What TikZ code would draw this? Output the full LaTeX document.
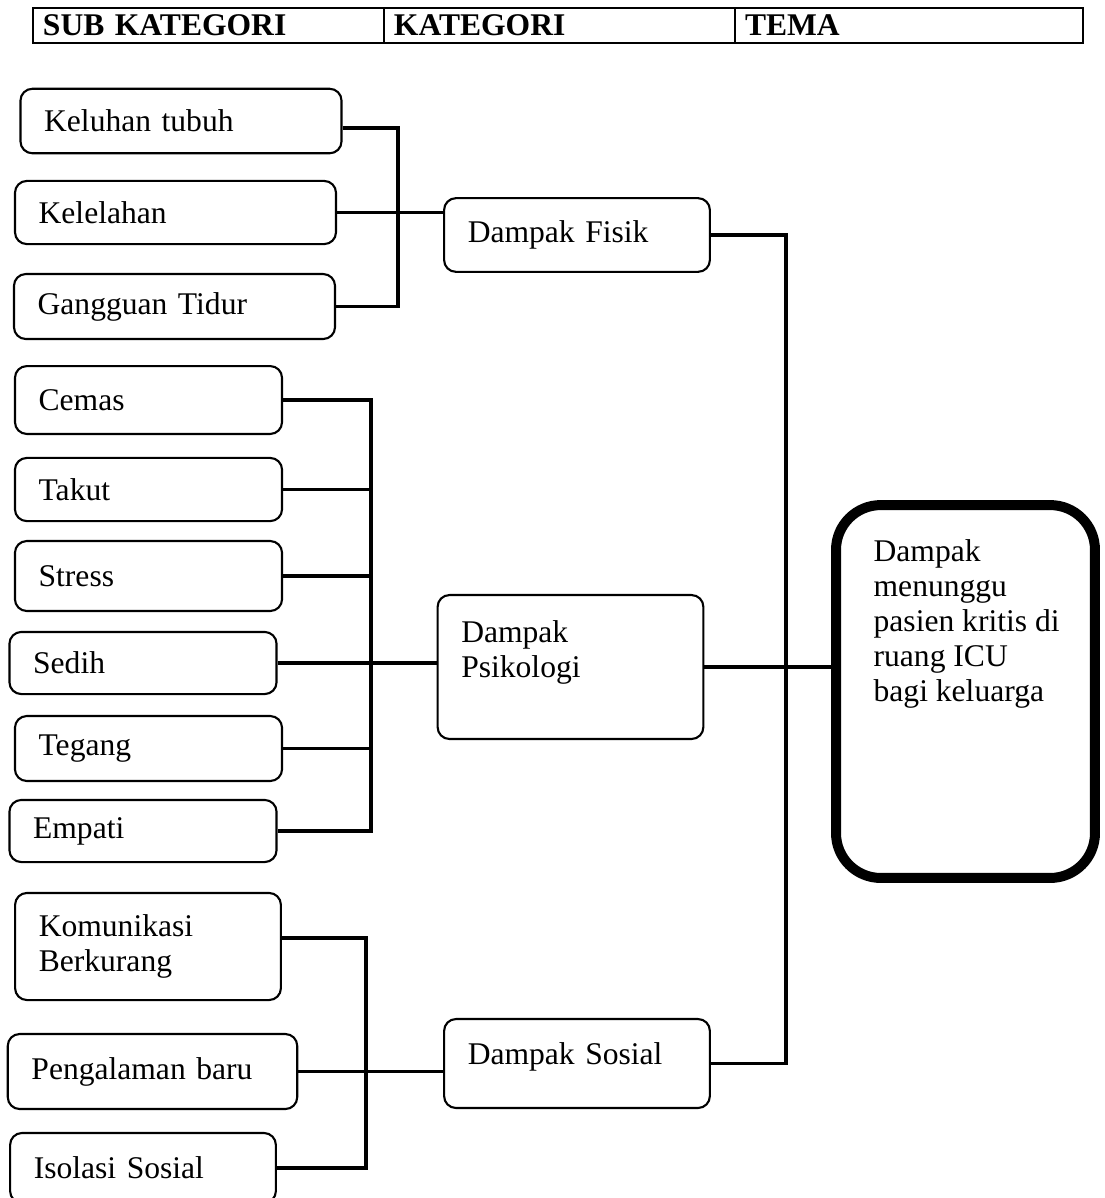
\documentclass[tikz,border=0pt]{standalone}
\usepackage{fontspec}
\setmainfont{Liberation Serif}
\usepackage{tikz}
\usetikzlibrary{positioning}
\tikzset{subbox/.style={rectangle, rounded corners=4.5pt, draw=black, line width=0.8pt, inner xsep=9pt, inner ysep=2pt, align=left},katbox/.style={subbox, text width=83pt},temabox/.style={rectangle, rounded corners=17pt, draw=black, line width=3.8pt, minimum width=98.4pt, minimum height=141.7pt},head/.style={rectangle, draw=black, line width=1pt, inner xsep=3.8pt, inner ysep=1pt, minimum height=13.3pt, align=left, font=\fontsize{12}{13.3}\selectfont\bfseries},conn/.style={line width=1.5pt}}

\begin{document}
\begin{tikzpicture}[x=0.38pt,y=-0.38pt,font=\fontsize{12}{13.3}\selectfont]

\useasboundingbox (0,0) rectangle (1105,1198);

% header
\node (hsub) at (208.5,25.5)[head,text width=125.8pt]{SUB KATEGORI};
\node (hkat) at (559.5,25.5)[head,text width=125.8pt]{KATEGORI};
\node (htema) at (909,25.5)[head,text width=124.6pt]{TEMA};

% sub kategori
\node (keluhan) at (181,121)[subbox,text width=104pt,minimum height=24.5pt]{Keluhan tubuh};
\node (kelelahan) at (175.5,212.5)[subbox,text width=104pt,minimum height=24pt]{Kelelahan};
\node (gangguan) at (174.5,306.5)[subbox,text width=104pt,minimum height=24.7pt]{Gangguan Tidur};

\node (cemas) at (148.5,400)[subbox,text width=83.5pt,minimum height=25.8pt]{Cemas};
\node (takut) at (148.5,489.5)[subbox,text width=83.5pt,minimum height=24pt]{Takut};
\node (stress) at (148.5,576)[subbox,text width=83.5pt,minimum height=26.6pt]{Stress};
\node (sedih) at (143,663)[subbox,text width=83.5pt,minimum height=23.6pt]{Sedih};
\node (tegang) at (148.5,748.5)[subbox,text width=83.5pt,minimum height=24.7pt]{Tegang};
\node (empati) at (143,831)[subbox,text width=83.5pt,minimum height=23.6pt]{Empati};

\node (komunikasi) at (148,946.5)[subbox,text width=83pt,minimum height=40.7pt]{Komunikasi\\Berkurang};
\node (pengalaman) at (152.5,1071.5)[subbox,text width=92pt,minimum height=28.5pt]{Pengalaman baru};
\node (isolasi) at (143,1168)[subbox,text width=83pt,minimum height=26.6pt]{Isolasi Sosial};

% kategori
\node (fisik) at (577,235)[katbox,minimum height=28pt]{Dampak Fisik};
\node (psikologi) at (570.5,667)[katbox,minimum height=54.7pt]{Dampak\\Psikologi\\\mbox{}};
\node (sosial) at (577,1063.5)[katbox,minimum height=33.8pt]{Dampak Sosial\\[-6pt]\mbox{}};

% tema
\node (tema) at (965.5,691.5)[temabox]{};
\node (temateks) at ([xshift=16pt,yshift=-15pt]tema.north west)[anchor=north west,inner sep=0pt,align=left]{Dampak\\menunggu\\pasien kritis di\\ruang ICU\\bagi keluarga};

\coordinate (busfisik) at (398,0);
\coordinate (buspsiko) at (371,0);
\coordinate (bussosial) at (366,0);
\coordinate (bustema) at (786,0);

\draw[conn] ([yshift=-2.7pt]keluhan.east) -- ([yshift=-2.7pt]keluhan.east -| busfisik) -- (gangguan.east -| busfisik) -- (gangguan.east);
\draw[conn] (kelelahan.east) -- (kelelahan.east -| fisik.west);

\draw[conn] (cemas.east) -- (cemas.east -| buspsiko) -- (empati.east -| buspsiko) -- (empati.east);
\draw[conn] (takut.east) -- (takut.east -| buspsiko);
\draw[conn] (stress.east) -- (stress.east -| buspsiko);
\draw[conn] (tegang.east) -- (tegang.east -| buspsiko);
\draw[conn] (sedih.east) -- (sedih.east -| psikologi.west);

\draw[conn] ([yshift=3.2pt]komunikasi.east) -- ([yshift=3.2pt]komunikasi.east -| bussosial) -- (isolasi.east -| bussosial) -- (isolasi.east);
\draw[conn] (pengalaman.east) -- (pengalaman.east -| sosial.west);

\draw[conn] (fisik.east) -- (fisik.east -| bustema) -- (sosial.east -| bustema) -- (sosial.east);
\draw[conn] (psikologi.east) -- (psikologi.east -| tema.west);

\end{tikzpicture}
\end{document}
